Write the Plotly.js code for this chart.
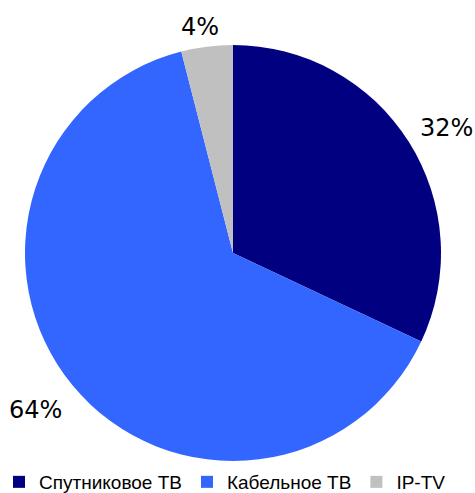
<!DOCTYPE html>
<html><head><meta charset="utf-8">
<script src="https://cdn.plot.ly/plotly-3.0.1.min.js"></script>
<style>html,body{margin:0;padding:0;background:#fff}#chart{width:475px;height:493px}</style>
</head><body><div id="chart"></div>
<script>
const categories = ["Спутниковое ТВ", "Кабельное ТВ", "IP-TV"];
const shares = [32, 64, 4];
const colors = ["#000080", "#3366FF", "#C0C0C0"];

const W = 475, H = 493;
// pie box in pixels (layout, not data)
const pieLeft = 25, pieRight = 441, pieTop = 45, pieBottom = 461;
const cx = (pieLeft + pieRight) / 2, cy = (pieTop + pieBottom) / 2, R = (pieRight - pieLeft) / 2;
const labelFont = {family: "DejaVu Sans", size: 24, color: "#000"};

const trace = {
  type: "pie",
  labels: categories,
  values: shares,
  sort: false,
  direction: "clockwise",
  rotation: 0,
  marker: {colors: colors, line: {width: 0}},
  textinfo: "none",
  hoverinfo: "none",
  domain: {x: [pieLeft / W, pieRight / W], y: [1 - pieBottom / H, 1 - pieTop / H]}
};

// percent labels placed outside each slice, derived from the values
const total = shares.reduce((a, b) => a + b, 0);
const annotations = [];
let cum = 0;
shares.forEach((v, i) => {
  const mid = (cum + v / 2) / total * 2 * Math.PI;
  cum += v;
  const dx = Math.sin(mid), dy = Math.cos(mid); // dy: up
  const txt = Math.round(v / total * 100) + "%";
  const w = txt.length === 3 ? 53 : 38;
  const gap = 14;
  const ox = (w / 2) * dx / Math.max(Math.abs(dx), 0.5);
  const oy = 10.7 * dy / Math.max(Math.abs(dy), 0.5) - 4.7; // up positive
  const px = cx + dx * (R + gap) + ox;
  const py = cy - dy * (R + gap) - oy;
  annotations.push({
    xref: "paper", yref: "paper", x: px / W, y: 1 - py / H,
    xanchor: "center", yanchor: "middle", showarrow: false,
    text: txt, font: labelFont
  });
});

const layout = {
  width: W, height: H,
  margin: {l: 0, r: 0, t: 0, b: 0, autoexpand: false},
  paper_bgcolor: "#fff",
  showlegend: true,
  annotations: annotations,
  legend: {
    orientation: "h", x: -1 / W, xanchor: "left", y: -8 / H, yanchor: "bottom",
    font: {family: "Liberation Sans", size: 19, color: "#000"},
    itemwidth: 30, tracegroupgap: 0, traceorder: "normal"
  }
};
Plotly.newPlot("chart", [trace], layout, {displayModeBar: false, staticPlot: true});
</script></body></html>
